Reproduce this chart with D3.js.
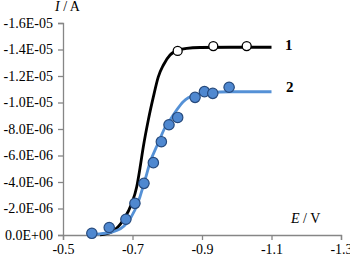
<!DOCTYPE html>
<html>
<head>
<meta charset="utf-8">
<script src="https://cdn.jsdelivr.net/npm/d3@7"></script>
<style>
  html, body { margin: 0; padding: 0; background: #fff; }
  svg { display: block; }
  text { font-family: "Liberation Serif", "Times New Roman", serif; }
</style>
</head>
<body>
<svg id="chart" width="350" height="258"></svg>
<script>
// ---- Data ----
const xTicks = [-0.5, -0.7, -0.9, -1.1, -1.3];
const yTicks = [0, -2e-6, -4e-6, -6e-6, -8e-6, -1.0e-5, -1.2e-5, -1.4e-5, -1.6e-5];
const yTickLabels = ["0.0E+00", "-2.0E-06", "-4.0E-06", "-6.0E-06", "-8.0E-06", "-1.0E-05", "-1.2E-05", "-1.4E-05", "-1.6E-05"];

// curve 1 (black line)
const curve1E = [-0.6065, -0.640, -0.6735, -0.698, -0.712, -0.7216, -0.731, -0.7455, -0.760, -0.774, -0.789, -0.808, -0.827, -0.856, -0.894, -0.981, -1.10];
const curve1I = [-0.015e-6, -0.23e-6, -1.13e-6, -2.39e-6, -3.62e-6, -5.06e-6, -6.64e-6, -8.68e-6, -10.42e-6, -11.92e-6, -12.83e-6, -13.58e-6, -13.91e-6, -14.09e-6, -14.15e-6, -14.17e-6, -14.17e-6];
// curve 1 measured points (open circles)
const points1E = [-0.830, -0.9325, -1.0286];
const points1I = [-13.89e-6, -14.26e-6, -14.26e-6];

// curve 2 (blue line)
const curve2E = [-0.587, -0.645, -0.683, -0.707, -0.7216, -0.736, -0.750, -0.774, -0.798, -0.808, -0.827, -0.846, -0.880, -0.923, -0.981, -1.10];
const curve2I = [-0.04e-6, -0.25e-6, -0.88e-6, -1.89e-6, -2.89e-6, -4.15e-6, -5.43e-6, -6.94e-6, -8.33e-6, -8.68e-6, -9.43e-6, -10.06e-6, -10.57e-6, -10.75e-6, -10.81e-6, -10.81e-6];
// curve 2 measured points (filled circles)
const points2E = [-0.583, -0.633, -0.681, -0.707, -0.733, -0.760, -0.783, -0.805, -0.830, -0.880, -0.907, -0.931, -0.978];
const points2I = [-0.128e-6, -0.566e-6, -1.19e-6, -2.39e-6, -3.90e-6, -5.46e-6, -7.04e-6, -8.32e-6, -8.87e-6, -10.39e-6, -10.82e-6, -10.69e-6, -11.15e-6];

const seriesLabels = ["1", "2"];

// ---- Layout ----
const svg = d3.select("#chart");
const x = d3.scaleLinear().domain([-0.5, -1.3]).range([63, 341]);
const y = d3.scaleLinear().domain([0, -1.6e-5]).range([235, 23]);
const axisColor = "#868686";

// X axis
const xAxis = svg.append("g").attr("transform", "translate(0,235)")
  .call(d3.axisBottom(x).tickValues(xTicks).tickFormat(d => d.toFixed(1)).tickSizeOuter(0).tickSize(5).tickPadding(3));
// Y axis
const yAxis = svg.append("g").attr("transform", "translate(63,0)")
  .call(d3.axisLeft(y).tickValues(yTicks).tickFormat((d, i) => yTickLabels[i]).tickSizeOuter(0).tickSize(5).tickPadding(5));

[xAxis, yAxis].forEach(g => {
  g.select(".domain").attr("stroke", axisColor).attr("stroke-width", 1.3);
  g.selectAll(".tick line").attr("stroke", axisColor).attr("stroke-width", 1.3);
  g.selectAll(".tick text").attr("fill", "#000").style("font-size", "14px")
    .style("font-family", '"Liberation Serif", "Times New Roman", serif');
});
xAxis.selectAll(".tick text").attr("dy", "0.78em");

// Lines
const line = d3.line().x(d => x(d[0])).y(d => y(d[1])).curve(d3.curveMonotoneX);
const c1 = curve1E.map((e, i) => [e, curve1I[i]]);
const c2 = curve2E.map((e, i) => [e, curve2I[i]]);

svg.append("path").datum(c1).attr("d", line)
  .attr("fill", "none").attr("stroke", "#000").attr("stroke-width", 2.8);
svg.append("path").datum(c2).attr("d", line)
  .attr("fill", "none").attr("stroke", "#5591d6").attr("stroke-width", 2.8);

// Points
svg.append("g").selectAll("circle")
  .data(points1E.map((e, i) => [e, points1I[i]]))
  .join("circle")
  .attr("cx", d => x(d[0])).attr("cy", d => y(d[1])).attr("r", 4.5)
  .attr("fill", "#fff").attr("stroke", "#000").attr("stroke-width", 1.3);

svg.append("g").selectAll("circle")
  .data(points2E.map((e, i) => [e, points2I[i]]))
  .join("circle")
  .attr("cx", d => x(d[0])).attr("cy", d => y(d[1])).attr("r", 5.2)
  .attr("fill", "#4f88d0").attr("stroke", "#264a7d").attr("stroke-width", 1.2);

// Series labels
svg.append("text").attr("x", 285).attr("y", 50).style("font-size", "15px").style("font-weight", "bold").text(seriesLabels[0]);
svg.append("text").attr("x", 286).attr("y", 92).style("font-size", "15px").style("font-weight", "bold").text(seriesLabels[1]);

// Axis titles
const yt = svg.append("text").attr("x", 55).attr("y", 11).style("font-size", "14px");
yt.append("tspan").style("font-style", "italic").text("I");
yt.append("tspan").text(" / A");
const xt = svg.append("text").attr("x", 291).attr("y", 223).style("font-size", "14px");
xt.append("tspan").style("font-style", "italic").text("E");
xt.append("tspan").text(" / V");
</script>
</body>
</html>
